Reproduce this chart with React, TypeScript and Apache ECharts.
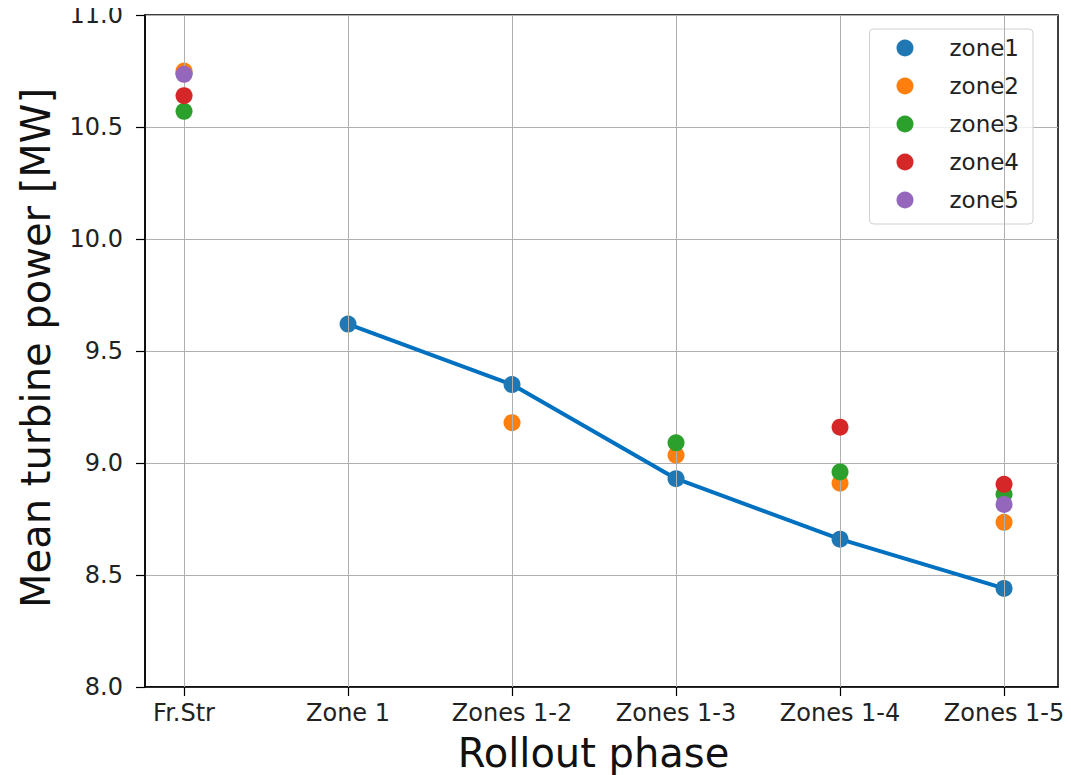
import React, { useEffect, useRef } from "react";
import * as echarts from "echarts";

const categories = ["Fr.Str", "Zone 1", "Zones 1-2", "Zones 1-3", "Zones 1-4", "Zones 1-5"];
const zoneNames = ["zone1", "zone2", "zone3", "zone4", "zone5"];
const zoneColors = ["#1f77b4", "#ff7f0e", "#2ca02c", "#d62728", "#9467bd"];
// values per category index (null = no point)
const zone1 = [10.74, 9.62, 9.35, 8.93, 8.66, 8.44];
const zone2 = [10.75, null, 9.18, 9.035, 8.91, 8.735];
const zone3 = [10.57, null, null, 9.09, 8.96, 8.86];
const zone4 = [10.64, null, null, null, 9.16, 8.905];
const zone5 = [10.735, null, null, null, null, 8.815];
const lineValues = [null, 9.62, 9.35, 8.93, 8.66, 8.44];
const yTicks = [8.0, 8.5, 9.0, 9.5, 10.0, 10.5, 11.0];

const zoneData = [zone1, zone2, zone3, zone4, zone5];

export default function App() {
  const ref = useRef<HTMLDivElement>(null);
  useEffect(() => {
    if (!ref.current) return;
    const chart = echarts.init(ref.current, null, { renderer: "svg" });
    const font = "DejaVu Sans";
    const catIdx = categories.map((_, i) => i);
    const toPairs = (arr: (number | null)[]) =>
      arr.map((v, i) => (v == null ? null : [i, v])).filter((d) => d != null);
    const scatterSeries = zoneNames.map((name, k) => ({
      name,
      type: "scatter",
      data: toPairs(zoneData[k]),
      symbol: "circle",
      symbolSize: 17,
      itemStyle: { color: zoneColors[k], opacity: 1 },
      z: 3 + k,
    }));
    const option = {
      animation: false,
      textStyle: { fontFamily: font },
      grid: {
        left: 137,
        right: 13,
        top: 7,
        bottom: 88,
        containLabel: false,
        outerBoundsMode: "none",
        show: true,
        borderColor: "#000",
        borderWidth: 1.5,
        backgroundColor: "transparent",
      },
      legend: {
        data: zoneNames,
        orient: "vertical",
        right: 38,
        top: 21,
        icon: "circle",
        itemWidth: 17,
        itemHeight: 17,
        itemGap: 14,
        padding: [7, 14, 12, 27],
        backgroundColor: "rgba(255,255,255,0.8)",
        borderColor: "#d0d0d0",
        borderWidth: 1,
        borderRadius: 4,
        textStyle: {
          fontSize: 23,
          lineHeight: 24,
          color: "#222",
          fontFamily: font,
          padding: [0, 0, 0, 31],
        },
      },
      xAxis: {
        type: "value",
        min: -0.238,
        max: 5.329,
        name: "Rollout phase",
        nameLocation: "middle",
        nameGap: 46,
        nameMoveOverlap: false,
        nameTextStyle: { fontSize: 40, color: "#111", fontFamily: font, padding: [0, 16, 0, 0] },
        axisLine: { show: true, onZero: false, lineStyle: { color: "#000", width: 1.5 } },
        axisTick: {
          show: true,
          customValues: catIdx,
          length: 9,
          inside: false,
          lineStyle: { color: "#000", width: 1.2 },
        },
        axisLabel: {
          customValues: catIdx,
          formatter: (v: number) => categories[Math.round(v)] ?? "",
          fontSize: 24,
          color: "#222",
          margin: 14,
          fontFamily: font,
        },
        splitLine: { show: false },
      },
      yAxis: {
        type: "value",
        min: 8.0,
        max: 11.0,
        interval: 0.5,
        name: "Mean turbine power [MW]",
        nameLocation: "middle",
        nameGap: 89,
        nameMoveOverlap: false,
        nameTextStyle: { fontSize: 40, color: "#111", fontFamily: font, padding: [0, 0, 0, 6] },
        axisLine: { show: true, onZero: false, lineStyle: { color: "#000", width: 1.5 } },
        axisTick: { show: true, length: 9, lineStyle: { color: "#000", width: 1.2 } },
        axisLabel: {
          formatter: (v: number) => (yTicks.includes(v) ? v.toFixed(1) : ""),
          fontSize: 24,
          color: "#222",
          margin: 22,
          fontFamily: font,
        },
        splitLine: { show: true, lineStyle: { color: "#b0b0b0", width: 1 } },
      },
      series: [
        {
          name: "_grid",
          type: "line",
          data: [],
          silent: true,
          markLine: {
            silent: true,
            symbol: "none",
            label: { show: false },
            lineStyle: { color: "#b0b0b0", width: 1, type: "solid" },
            data: catIdx.map((i) => ({ xAxis: i })),
          },
          z: 1,
        },
        {
          name: "_line",
          type: "line",
          data: toPairs(lineValues),
          showSymbol: false,
          symbol: "none",
          lineStyle: { color: "#0070c0", width: 4 },
          itemStyle: { color: "#0070c0" },
          z: 2,
        },
        ...scatterSeries,
      ],
    };
    chart.setOption(option as any);
    return () => chart.dispose();
  }, []);
  return <div ref={ref} style={{ width: 1063, height: 767 }} />;
}
